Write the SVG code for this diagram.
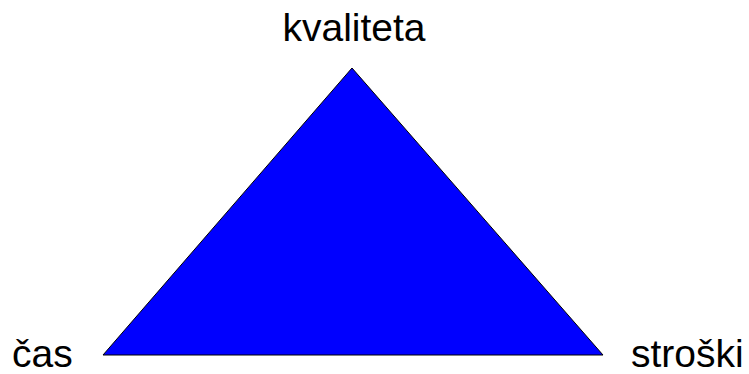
<svg xmlns="http://www.w3.org/2000/svg" width="749" height="374" viewBox="0 0 749 374">
<style>
.lbl{font-family:"Liberation Sans",Arial,sans-serif;font-size:39px;fill:#000}
</style>
<rect width="749" height="374" fill="#fff"/>
<g id="triangle"><polygon points="352,68 103,355 603,355" fill="#0000ff" stroke="#000" stroke-width="1"/></g>
<g id="kvaliteta"><text class="lbl" x="354" y="41" text-anchor="middle">kvaliteta</text></g>
<g id="cas"><text class="lbl" x="12" y="367">čas</text></g>
<g id="stroski"><text class="lbl" x="631" y="367">stroški</text></g>
</svg>
